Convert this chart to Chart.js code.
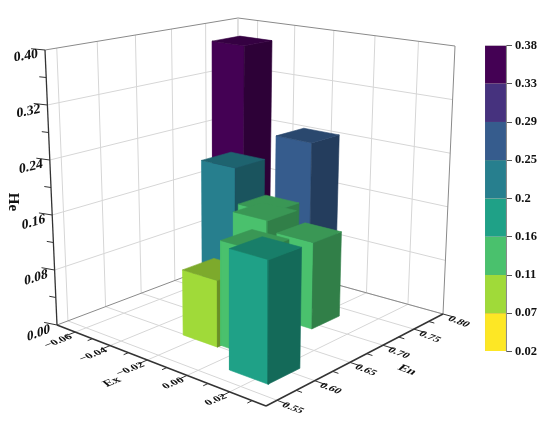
<!DOCTYPE html>
<html>
<head>
<meta charset="utf-8">
<style>
  html, body { margin: 0; background: #fff; }
  canvas { position: absolute; }
</style>
<script src="https://cdn.jsdelivr.net/npm/chart.js@4"></script>
</head>
<body>
<canvas id="graph3d" width="550" height="425" style="left:0;top:0"></canvas>
<canvas id="legende" width="65" height="327" style="left:485px;top:35px"></canvas>
<script>
// data
const barEx = [-0.058, -0.034, -0.015, -0.0325, -0.0225, -0.002, -0.0175, 0, 0.017];
const barEn = [0.77, 0.69, 0.746, 0.74, 0.705, 0.71, 0.62, 0.625, 0.59];
const barHe = [0.373, 0.218, 0.251, 0.136, 0.143, 0.125, 0.093, 0.147, 0.163];

const exTicks = [-0.06, -0.04, -0.02, 0, 0.02];
const enTicks = [0.55, 0.6, 0.65, 0.7, 0.75, 0.8];
const heTicks = [0, 0.08, 0.16, 0.24, 0.32, 0.4];
const exLabels = ['\u22120.06', '\u22120.04', '\u22120.02', '0.00', '0.02'];
const enLabels = ['0.55', '0.60', '0.65', '0.70', '0.75', '0.80'];
const heLabels = ['0.00', '0.08', '0.16', '0.24', '0.32', '0.40'];

const colorBreaks = [0.02, 0.07, 0.11, 0.16, 0.2, 0.25, 0.29, 0.33, 0.38];
const breakLabels = ['0.02', '0.07', '0.11', '0.16', '0.2', '0.25', '0.29', '0.33', '0.38'];
const classColors = ['#fde725', '#a0da39', '#4ac16d', '#1fa187', '#277f8e', '#365c8d', '#46327e', '#440154'];

// axis ranges and camera
const exMin = -0.071, exMax = 0.036, enMin = 0.536, enMax = 0.8, heMax = 0.4;
const barW = 0.0177, barD = 0.043;
const floorQuad = [[57, 325], [266, 406], [443, 314], [237, 257]];
const topQuad = [[45, 50], [268, 89], [455, 46], [238, 18]];

function quadMap(q) {
  const [p0, p1, p2, p3] = q;
  const dx1 = p1[0] - p2[0], dx2 = p3[0] - p2[0], sx = p0[0] - p1[0] + p2[0] - p3[0];
  const dy1 = p1[1] - p2[1], dy2 = p3[1] - p2[1], sy = p0[1] - p1[1] + p2[1] - p3[1];
  const det = dx1 * dy2 - dx2 * dy1;
  const g = (sx * dy2 - dx2 * sy) / det;
  const h = (dx1 * sy - sx * dy1) / det;
  const a = p1[0] - p0[0] + g * p1[0], b = p3[0] - p0[0] + h * p3[0];
  const d = p1[1] - p0[1] + g * p1[1], e = p3[1] - p0[1] + h * p3[1];
  return (u, v) => {
    const w = g * u + h * v + 1;
    return [(a * u + b * v + p0[0]) / w, (d * u + e * v + p0[1]) / w];
  };
}
const floorMap = quadMap(floorQuad);
const topMap = quadMap(topQuad);

function project(ex, en, he) {
  const u = (ex - exMin) / (exMax - exMin);
  const v = (en - enMin) / (enMax - enMin);
  const a = floorMap(u, v), b = topMap(u, v);
  const t = he / heMax;
  return { x: a[0] + (b[0] - a[0]) * t, y: a[1] + (b[1] - a[1]) * t };
}

function shade(hex, f) {
  const n = parseInt(hex.slice(1), 16);
  const c = [n >> 16, (n >> 8) & 255, n & 255].map(v => Math.round(v * f));
  return 'rgb(' + c.join(',') + ')';
}

function classColor(he) {
  for (let i = 0; i < classColors.length; i++) {
    if (he <= colorBreaks[i + 1]) return classColors[i];
  }
  return classColors[classColors.length - 1];
}

const datasets = [];

function addLine(points, color, width) {
  datasets.push({ data: points, borderColor: color, borderWidth: width, fill: false, pointRadius: 0, tension: 0 });
}

function addFace(points, color) {
  datasets.push({ data: points.concat([points[0]]), borderColor: color, backgroundColor: color, borderWidth: 0.6, fill: 'shape', pointRadius: 0, tension: 0 });
}

// --- walls and floor ---
const gridColor = '#d6d6d6', edgeColor = '#8a8a8a', axisColor = '#333';
const minorEx = [-0.05, -0.03, -0.01, 0.01, 0.03];
const minorEn = [0.575, 0.625, 0.675, 0.725, 0.775];
const minorHe = [0.04, 0.12, 0.2, 0.28, 0.36];

enTicks.forEach(en => {
  addLine([project(exMin, en, 0), project(exMin, en, heMax)], gridColor, 1);
  addLine([project(exMin, en, 0), project(exMax, en, 0)], gridColor, 1);
});
exTicks.forEach(ex => {
  addLine([project(ex, enMax, 0), project(ex, enMax, heMax)], gridColor, 1);
  addLine([project(ex, enMin, 0), project(ex, enMax, 0)], gridColor, 1);
});
heTicks.forEach(he => {
  addLine([project(exMin, enMin, he), project(exMin, enMax, he), project(exMax, enMax, he)], he === heMax || he === 0 ? edgeColor : gridColor, 1);
});
addLine([project(exMin, enMax, 0), project(exMin, enMax, heMax)], gridColor, 1);
addLine([project(exMax, enMax, 0), project(exMax, enMax, heMax)], edgeColor, 1);

// --- axes ---
addLine([project(exMin, enMin, 0), project(exMin, enMin, heMax)], axisColor, 1.3);
addLine([project(exMin, enMin, 0), project(exMax, enMin, 0)], axisColor, 1.5);
addLine([project(exMax, enMin, 0), project(exMax, enMax, 0)], axisColor, 1.5);
heTicks.forEach(he => addLine([project(exMin, enMin, he), project(exMin - 0.006, enMin - 0.004, he)], axisColor, 1));
minorHe.forEach(he => addLine([project(exMin, enMin, he), project(exMin - 0.003, enMin - 0.002, he)], axisColor, 1));
exTicks.forEach(ex => addLine([project(ex, enMin, 0), project(ex, enMin - 0.012, 0)], axisColor, 1));
minorEx.forEach(ex => addLine([project(ex, enMin, 0), project(ex, enMin - 0.006, 0)], axisColor, 1));
enTicks.forEach(en => addLine([project(exMax, en, 0), project(exMax + 0.005, en, 0)], axisColor, 1));
minorEn.forEach(en => addLine([project(exMax, en, 0), project(exMax + 0.0025, en, 0)], axisColor, 1));

// --- bars, listed far to near so each covers the one behind ---
barEx.forEach((_, i) => {
  const x0 = barEx[i] - barW / 2, x1 = barEx[i] + barW / 2;
  const y0 = barEn[i] - barD / 2, y1 = barEn[i] + barD / 2;
  const he = barHe[i];
  const c = classColor(he);
  addFace([project(x0, y0, 0), project(x1, y0, 0), project(x1, y0, he), project(x0, y0, he)], c);
  addFace([project(x1, y0, 0), project(x1, y1, 0), project(x1, y1, he), project(x1, y0, he)], shade(c, 0.66));
  addFace([project(x0, y0, he), project(x1, y0, he), project(x1, y1, he), project(x0, y1, he)], shade(c, 0.78));
});

// first dataset is painted last, so number them by position
datasets.forEach((d, i) => { d.order = datasets.length - i; });

// tick labels lie in the plane of their axis
function planeText(ctx, text, x, y, a, b, c, d, align, size) {
  ctx.save();
  ctx.font = 'bold ' + size + 'px "Liberation Serif"';
  ctx.fillStyle = '#111';
  ctx.textAlign = align;
  ctx.textBaseline = 'middle';
  ctx.transform(a, b, c, d, x, y);
  ctx.fillText(text, 0, 0);
  ctx.restore();
}

const axisText = {
  id: 'axisText',
  afterDraw(chart) {
    const ctx = chart.ctx;
    heTicks.forEach((he, i) => {
      const p = project(exMin, enMin, he);
      const q = project(exMin, enMax, he);
      const k = Math.hypot(q.x - p.x, q.y - p.y);
      const ux = (q.x - p.x) / k, uy = (q.y - p.y) / k;
      planeText(ctx, heLabels[i], p.x - 7, p.y + 4, ux, uy, 0, 1, 'right', 14);
    });
    exTicks.forEach((ex, i) => {
      const p = project(ex, enMin, 0);
      planeText(ctx, exLabels[i], p.x - 4, p.y + 4, 0.93, -0.37, 0.62, 0.55, 'right', 12);
    });
    enTicks.forEach((en, i) => {
      const p = project(exMax, en, 0);
      planeText(ctx, enLabels[i], p.x + 6, p.y + 4, 0.93, 0.36, -0.62, 0.55, 'left', 12);
    });
    planeText(ctx, 'Ex', 112, 382, 0.93, -0.37, 0.62, 0.55, 'center', 14);
    planeText(ctx, 'En', 407, 370, 0.93, 0.36, -0.62, 0.55, 'center', 14);
    planeText(ctx, 'He', 13, 202, 0, 1, -1, 0, 'center', 15);
  }
};

new Chart(document.getElementById('graph3d'), {
  type: 'line',
  data: { datasets: datasets },
  plugins: [axisText],
  options: {
    responsive: false,
    animation: false,
    layout: { padding: 0 },
    plugins: { legend: { display: false }, tooltip: { enabled: false } },
    scales: {
      x: { type: 'linear', display: false, min: 0, max: 550 },
      y: { type: 'linear', display: false, min: 0, max: 425, reverse: true }
    }
  }
});

// --- colour bar ---
new Chart(document.getElementById('legende'), {
  type: 'bar',
  data: {
    labels: ['He'],
    datasets: classColors.map(c => ({
      data: [1], backgroundColor: c, borderColor: '#8a8a8a', borderWidth: 0.4,
      barPercentage: 1, categoryPercentage: 1
    }))
  },
  options: {
    responsive: false,
    animation: false,
    layout: { padding: { top: 8, bottom: 8 } },
    plugins: { legend: { display: false }, tooltip: { enabled: false } },
    scales: {
      x: { stacked: true, display: false },
      y: {
        stacked: true,
        position: 'right',
        min: 0,
        max: classColors.length,
        afterFit(scale) { scale.width = 44; },
        border: { color: '#8a8a8a' },
        grid: { drawOnChartArea: false, color: '#555', tickLength: 6 },
        ticks: {
          stepSize: 1,
          padding: 3,
          color: '#111',
          font: { family: '"Liberation Serif"', weight: 'bold', size: 12.5 },
          callback: v => breakLabels[v]
        }
      }
    }
  }
});
</script>
</body>
</html>
